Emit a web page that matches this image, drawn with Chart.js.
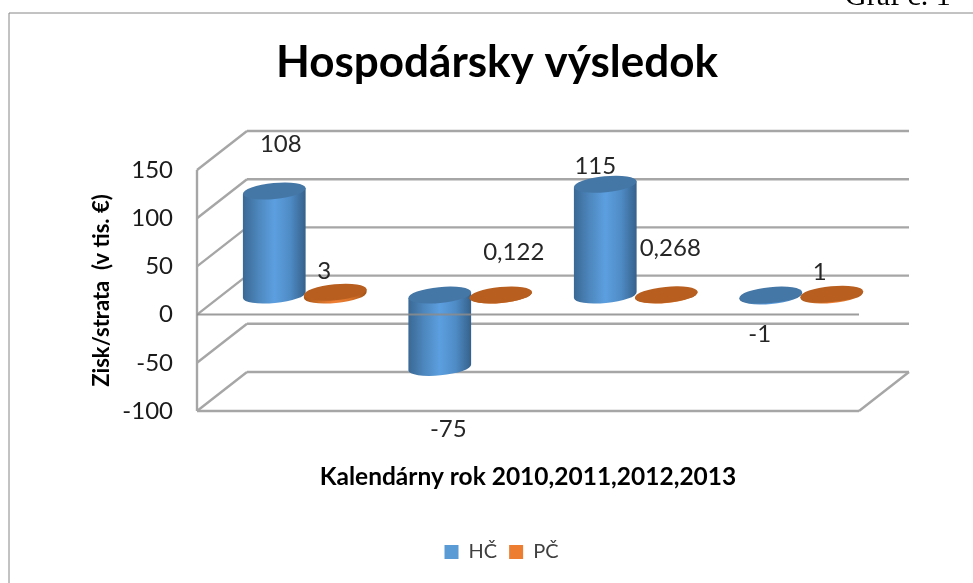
<!DOCTYPE html>
<html lang="sk">
<head>
<meta charset="utf-8">
<script src="https://cdn.jsdelivr.net/npm/chart.js@4"></script>
<style>
html,body{margin:0;padding:0;background:#fff;overflow:hidden;width:973px;height:583px}
#wrap{position:absolute;left:0;top:0;width:973px;height:583px}
#graf{position:absolute;left:845px;top:-20px;font:30px/30px "Liberation Serif",serif;color:#000;white-space:nowrap}
</style>
</head>
<body>
<div id="wrap"><canvas id="c" width="973" height="583"></canvas></div>
<div id="graf">Graf č. 1</div>
<script>
const categories = ['2010', '2011', '2012', '2013'];
const hcValues = [108, -75, 115, -1];
const pcValues = [3, 0.122, 0.268, 1];
const yTicksStep = 50;
const yMin = -100;
const yMax = 150;
const titleText = 'Hospodársky výsledok';
const xTitle = 'Kalendárny rok 2010,2011,2012,2013';
const yTitle = 'Zisk/strata  (v tis. €)';

const FONT = 'Lato, "Open Sans", sans-serif';
const DX = 50, DY = 39, GRID = '#a6a6a6';
const STYLES = [
  {body: ['#3a6894', '#4d87bd', '#5c9fe0', '#4f8cc6', '#35618b'], cap: '#4577a6'},
  {body: ['#a85518', '#d06f28', '#f08035', '#d87228', '#a35216'], cap: '#b85f20'}
];
const LABEL_OFFSETS = [
  [[6.5, -47], [8.5, 62], [-10, -18], [-11, 38.5]],
  [[-11, -21], [13, -43], [4, -47], [-12, -21.5]]
];
const fmt = v => String(v).replace('.', ',');

function cylinder(ctx, el, st) {
  const cx = el.x + DX / 2, rx = el.width / 2, ry = 8, rot = -0.095;
  const top = Math.min(el.y, el.base) + DY * -0.5;
  const bot = Math.max(el.y, el.base) + DY * -0.5;
  const ox = rx * Math.cos(rot), oy = rx * Math.sin(rot);
  const g = ctx.createLinearGradient(cx - rx, 0, cx + rx, 0);
  st.body.forEach((c, i) => g.addColorStop(i / (st.body.length - 1), c));
  ctx.beginPath();
  ctx.moveTo(cx - ox, top - oy);
  ctx.ellipse(cx, bot, rx, ry, rot, Math.PI, 0, true);
  ctx.lineTo(cx + ox, top + oy);
  ctx.closePath();
  ctx.fillStyle = g;
  ctx.fill();
  ctx.beginPath();
  ctx.ellipse(cx, top, rx, ry, rot, 0, Math.PI * 2);
  ctx.fillStyle = st.cap;
  ctx.fill();
}

function line(ctx, x1, y1, x2, y2, color, w) {
  ctx.beginPath();
  ctx.moveTo(x1, y1);
  ctx.lineTo(x2, y2);
  ctx.strokeStyle = color;
  ctx.lineWidth = w;
  ctx.stroke();
}

const scene3d = {
  id: 'scene3d',
  afterLayout(chart) {
    chart.legend.left += 4.5;
    chart.legend.right += 4.5;
  },
  beforeDatasetsDraw(chart) {
    const {ctx, chartArea: a, scales: {y}} = chart;
    ctx.save();
    // outer frame
    line(ctx, 9, 13, 973, 13, '#868686', 1);
    line(ctx, 9, 13, 9, 583, '#868686', 1);
    // walls
    y.ticks.forEach(t => {
      const py = y.getPixelForValue(t.value);
      line(ctx, a.left, py, a.left + DX, py - DY, GRID, 2.4);
      line(ctx, a.left + DX, py - DY, a.right + DX, py - DY, GRID, 2.4);
    });
    line(ctx, a.left, a.top, a.left, a.bottom, GRID, 2.4);
    line(ctx, a.left, a.bottom, a.right, a.bottom, GRID, 2.4);
    line(ctx, a.right, a.bottom, a.right + DX, a.bottom - DY, GRID, 2.4);
    // cylinders, left to right
    const metas = [chart.getDatasetMeta(0), chart.getDatasetMeta(1)];
    categories.forEach((_, i) => {
      metas.forEach((m, d) => cylinder(ctx, m.data[i], STYLES[d]));
    });
    // zero line in front
    const z = y.getPixelForValue(0);
    line(ctx, a.left, z, a.right, z, 'rgba(140,140,140,0.85)', 2);
    // data labels
    ctx.font = '24px ' + FONT;
    ctx.fillStyle = '#262626';
    ctx.textAlign = 'center';
    ctx.textBaseline = 'middle';
    metas.forEach((m, d) => {
      const vals = d === 0 ? hcValues : pcValues;
      m.data.forEach((el, i) => {
        const [ox, oy] = LABEL_OFFSETS[d][i];
        ctx.fillText(fmt(vals[i]), el.x + DX / 2 + ox, el.y - DY / 2 + oy);
      });
    });
    ctx.restore();
    return false;
  }
};

new Chart(document.getElementById('c'), {
  type: 'bar',
  data: {
    labels: categories,
    datasets: [
      {label: 'HČ', data: hcValues, backgroundColor: '#5b9bd5', categoryPercentage: 0.737, barPercentage: 1.033},
      {label: 'PČ', data: pcValues, backgroundColor: '#ed7d31', categoryPercentage: 0.737, barPercentage: 1.033}
    ]
  },
  options: {
    responsive: false,
    animation: false,
    layout: {padding: {left: 21, right: 0, top: 0, bottom: 11}},
    plugins: {
      title: {
        display: true,
        text: titleText,
        color: '#000',
        font: {family: FONT, size: 44, weight: 'bold', lineHeight: 1.2},
        padding: {top: 36, bottom: 81.2}
      },
      legend: {
        display: true,
        position: 'bottom',
        labels: {
          color: '#404040',
          font: {family: FONT, size: 20},
          boxWidth: 14,
          boxHeight: 14,
          padding: 12
        }
      },
      tooltip: {enabled: false}
    },
    scales: {
      x: {
        grid: {display: false, drawTicks: false},
        border: {display: false},
        ticks: {display: false},
        title: {
          display: true,
          text: xTitle,
          color: '#000',
          font: {family: FONT, size: 24.5, weight: 'bold', lineHeight: 1.2},
          padding: {top: 0, bottom: 38}
        },
        afterFit(s) { s.height = 119; }
      },
      y: {
        min: yMin,
        max: yMax,
        grid: {display: false, drawTicks: false},
        border: {display: false},
        ticks: {
          stepSize: yTicksStep,
          padding: 24,
          color: '#1a1a1a',
          font: {family: FONT, size: 24}
        },
        title: {
          display: true,
          text: yTitle,
          color: '#000',
          font: {family: FONT, size: 22, weight: 'bold', lineHeight: 1.2},
          padding: {top: 68, bottom: 0}
        },
        afterFit(s) { s.width = 176; }
      },
      yRight: {
        position: 'right',
        min: yMin,
        max: yMax,
        grid: {display: false, drawTicks: false},
        border: {display: false},
        ticks: {display: false},
        afterFit(s) { s.width = 114; }
      }
    }
  },
  plugins: [scene3d]
});
</script>
</body>
</html>
